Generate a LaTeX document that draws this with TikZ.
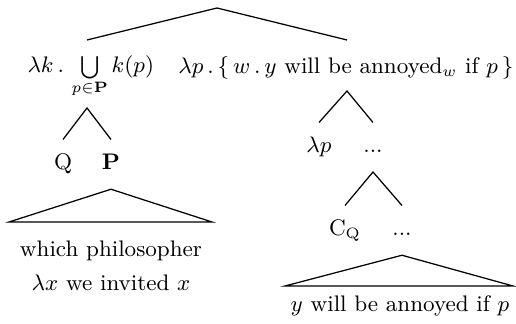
\documentclass[tikz,border=0pt]{standalone}
\usepackage{amsmath}
\begin{document}
\begin{tikzpicture}[x=0.4pt, y=-0.4pt,
    every node/.style={font=\fontsize{9}{11}\selectfont},
    lbl/.style={inner xsep=1pt, inner ysep=5pt, text height=7pt, text depth=2.5pt, anchor=base},
    branch/.style={line width=0.5pt}]
    \useasboundingbox (0,0) rectangle (516,324);

    % Gốc cây
    \coordinate (top) at (217, 8);
    \coordinate (lamk-up) at (87, 40);
    \coordinate (lamp-up) at (347, 40);
    \draw[branch] (lamk-up) -- (top) -- (lamp-up);

    % Hai nút con của gốc
    \node[anchor=base west, inner sep=0pt] (lamk) at (27, 73)
        {$\lambda k\,.\,\bigcup\limits_{p\in\mathbf{P}} k(p)$};
    \node[anchor=base west, inner sep=0pt] (lamp) at (178, 74)
        {$\lambda p\,.\,\{\,w\,.\,y$ will be annoyed$_w$ if $p\,\}$};

    % Nhánh trái: Q và P
    \coordinate (lamk-down) at (87, 108);
    \node[lbl] (Q) at (63, 170) {Q};
    \node[lbl] (P) at (111, 170) {$\mathbf{P}$};
    \draw[branch] (Q.north) -- (lamk-down) -- (P.north);

    % Tam giác dưới P
    \coordinate (P-left) at (9, 222);
    \coordinate (P-right) at (212, 222);
    \draw[branch] (P.south) -- (P-left) -- (P-right) -- cycle;
    \node[align=center, inner sep=0pt] (which) at (111, 266)
        {which philosopher\\[2.6pt] $\lambda x$ we invited $x$};

    % Nhánh phải: lambda p và ...
    \coordinate (lamp-down) at (347, 91);
    \node[lbl] (lamp2) at (319, 153) {$\lambda p$};
    \node[lbl] (dots1) at (373, 153) {...};
    \draw[branch] (lamp2.north) -- (lamp-down) -- (dots1.north);

    % C_Q và ...
    \coordinate (dots1-down) at (373, 172);
    \node[lbl] (CQ) at (345, 236) {C$_{\text{Q}}$};
    \node[lbl] (dots2) at (402, 236) {...};
    \draw[branch] (CQ.north) -- (dots1-down) -- (dots2.north);

    % Tam giác cuối
    \coordinate (dots2-left) at (285, 286);
    \coordinate (dots2-right) at (513, 286);
    \draw[branch] (dots2.south) -- (dots2-left) -- (dots2-right) -- cycle;
    \node[anchor=base, inner sep=0pt] (annoyed) at (400, 312) {$y$ will be annoyed if $p$};
\end{tikzpicture}
\end{document}
